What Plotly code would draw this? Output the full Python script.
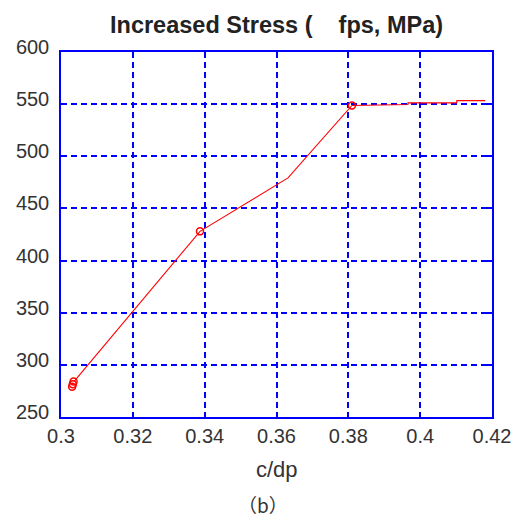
import plotly.graph_objects as go

# Curve values
line_x = [0.3036, 0.3387, 0.3632, 0.3810, 0.3966, 0.3966, 0.4102, 0.4102, 0.4181]
line_y = [284.0, 428.0, 479.3, 548.7, 549.6, 551.2, 551.2, 553.4, 553.4]

# Marked points
mark_x = [0.3035, 0.3033, 0.3031, 0.3387, 0.3810]
mark_y = [284.0, 281.5, 279.0, 428.0, 548.7]

x_ticks = [0.3, 0.32, 0.34, 0.36, 0.38, 0.4, 0.42]
x_tick_labels = ["0.3", "0.32", "0.34", "0.36", "0.38", "0.4", "0.42"]
y_ticks = [250, 300, 350, 400, 450, 500, 550, 600]

title_text = "Increased Stress (    fps, MPa)"
x_title = "c/dp"
caption = "（b）"

fig = go.Figure()
fig.add_trace(go.Scatter(x=line_x, y=line_y, mode="lines",
                         line=dict(color="#ff0000", width=1.1), showlegend=False))
fig.add_trace(go.Scatter(x=mark_x, y=mark_y, mode="markers",
                         marker=dict(symbol="circle-open", size=7, color="#ff0000",
                                     line=dict(width=1.5, color="#ff0000")),
                         showlegend=False))

axis_common = dict(
    showline=True, linecolor="#0000ff", linewidth=1.5, mirror="ticks",
    ticks="inside", tickcolor="#0000ff", ticklen=5, tickwidth=1.5,
    showgrid=True, gridcolor="#0000ff", gridwidth=1.5, griddash="6px,4px",
    zeroline=False, automargin=False,
    tickfont=dict(family="Liberation Sans, Arial, sans-serif", size=20, color="#333333"),
)

fig.update_xaxes(range=[0.3, 0.42], tickvals=x_ticks, ticktext=x_tick_labels,
                 ticklabelstandoff=0, **axis_common)
fig.update_yaxes(range=[250, 600], tickvals=y_ticks, ticklabelstandoff=6,
                 ticklabelshift=-5, **axis_common)

fig.update_layout(
    width=515, height=518,
    margin=dict(l=61, r=23, t=52, b=101, autoexpand=False),
    paper_bgcolor="white", plot_bgcolor="white",
    annotations=[
        dict(text="<b>" + title_text + "</b>", x=0.5, y=1, xref="paper", yref="paper",
             xanchor="center", yanchor="middle", yshift=27, showarrow=False,
             font=dict(family="Liberation Sans, Arial, sans-serif", size=23.5, color="#222222")),
        dict(text=x_title, x=0.5, y=0, xref="paper", yref="paper",
             xanchor="center", yanchor="middle", yshift=-52, showarrow=False,
             font=dict(family="Liberation Sans, Arial, sans-serif", size=22, color="#333333")),
        dict(text=caption, x=0.469, y=0, xref="paper", yref="paper",
             xanchor="center", yanchor="middle", yshift=-87, showarrow=False, borderpad=0,
             font=dict(family="Noto Sans CJK KR, Noto Sans CJK SC, sans-serif", size=19, color="#333333")),
    ],
)

fig.write_html(
    "out.html",
    config={"displayModeBar": False},
    post_script="document.body.style.margin='0';document.body.style.overflow='hidden';",
)
